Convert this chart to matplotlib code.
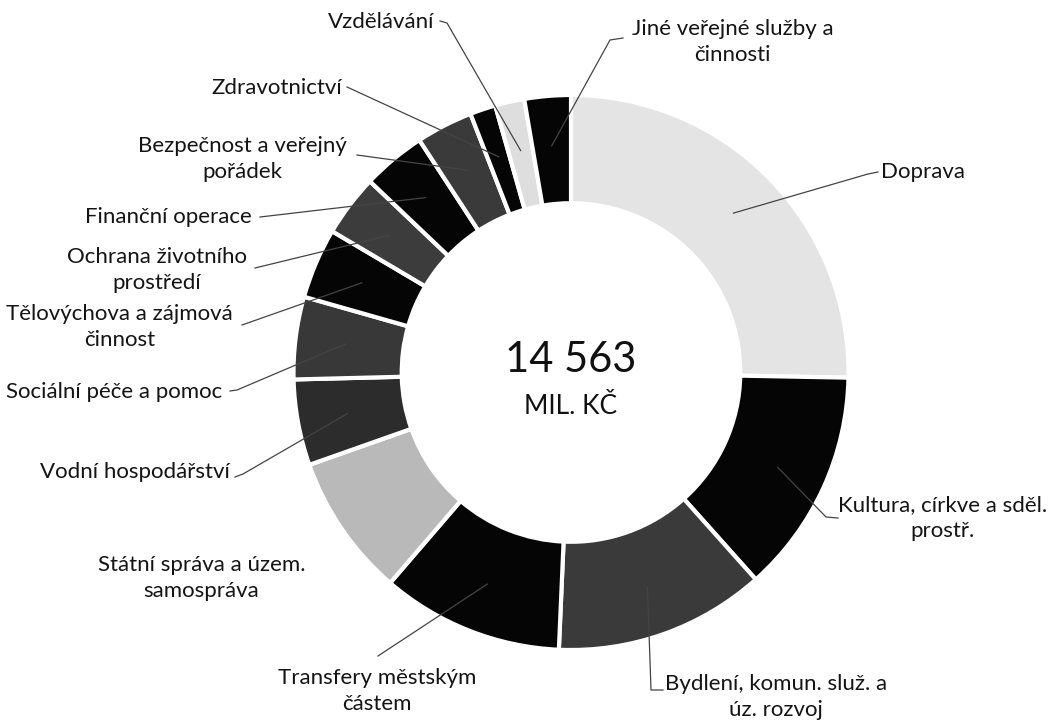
import matplotlib.pyplot as plt
import numpy as np

plt.rcParams['font.family'] = ['Lato', 'DejaVu Sans']

# kapitálové výdaje podle odvětví (mil. Kč), po směru hodinových ručiček od 12 h
categories = ["Doprava", "Kultura, církve a sděl.\nprostř.",
              "Bydlení, komun. služ. a\núz. rozvoj", "Transfery městským\nčástem",
              "Státní správa a územ.\nsamospráva", "Vodní hospodářství",
              "Sociální péče a pomoc", "Tělovýchova a zájmová\nčinnost",
              "Ochrana životního\nprostředí", "Finanční operace",
              "Bezpečnost a veřejný\npořádek", "Zdravotnictví", "Vzdělávání",
              "Jiné veřejné služby a\nčinnosti"]
values = [3684, 1908, 1791, 1544, 1209, 728, 699, 597, 524, 539, 481, 218, 248, 393]
colors = ["#e4e4e4", "#050505", "#3a3a3a", "#050505", "#b9b9b9", "#2c2c2c",
          "#383838", "#050505", "#3c3c3c", "#050505", "#3a3a3a", "#050505",
          "#dedede", "#050505"]
unit = "MIL. KČ"

# layout in pixels of the 1059x724 picture
W, H = 1059, 724
CX, CY, R = 571, 372.5, 277.5


def px(x, y):
    return (x - CX) / R, (CY - y) / R


# label anchor (x, y, ha) and leader start points near the label
label_pos = [(881, 172, "left"), (838, 518, "left"), (665, 697, "left"),
             (377, 691, "center"), (305, 578, "right"), (230, 472, "right"),
             (222, 392, "right"), (233, 327, "right"), (247, 270, "right"),
             (252, 217, "right"), (347, 159, "right"), (342, 88, "right"),
             (434, 22, "right"), (632, 42, "left")]
leader_pts = [[(878, 172), (868, 174)], [(838, 518), (826, 517)],
              [(663, 690), (651, 690)], [(378, 656)], None,
              [(235, 477), (243, 474)], [(230, 391), (237, 390)],
              [(242, 325)], [(255, 268)], [(260, 217)], [(357, 155)],
              [(347, 87)], [(440, 21), (447, 23)], [(623, 38), (610, 40)]]

fig = plt.figure(figsize=(W / 100, H / 100), dpi=100)
fig.patch.set_facecolor("white")
ax = fig.add_axes([0, 0, 1, 1])

wedges, _ = ax.pie(values, colors=colors, startangle=90, counterclock=False,
                   radius=1.0,
                   wedgeprops=dict(width=0.39, edgecolor="white", linewidth=3))

for w, lab, (lx, ly, ha), pts in zip(wedges, categories, label_pos, leader_pts):
    x, y = px(lx, ly)
    ax.text(x, y, lab, ha=ha, va="center", multialignment="center",
            fontsize=16, color="#141414", linespacing=1.4, zorder=5)
    if pts is None:
        continue
    mid = np.deg2rad((w.theta1 + w.theta2) / 2)
    end = (0.82 * np.cos(mid), 0.82 * np.sin(mid))
    path = [px(*p) for p in pts] + [end]
    ax.plot([p[0] for p in path], [p[1] for p in path],
            color="#444444", lw=0.9, zorder=4)

total = sum(values)
ax.text(*px(CX, 372), f"{total:,}".replace(",", " "), ha="center",
        va="baseline", fontsize=30, color="#111111")
ax.text(*px(CX, 414), unit, ha="center", va="baseline", fontsize=19,
        color="#111111")

ax.set_xlim(-CX / R, (W - CX) / R)
ax.set_ylim(-(H - CY) / R, CY / R)
ax.set_aspect("auto")
ax.axis("off")

fig.savefig("out.png", dpi=100, facecolor="white")
